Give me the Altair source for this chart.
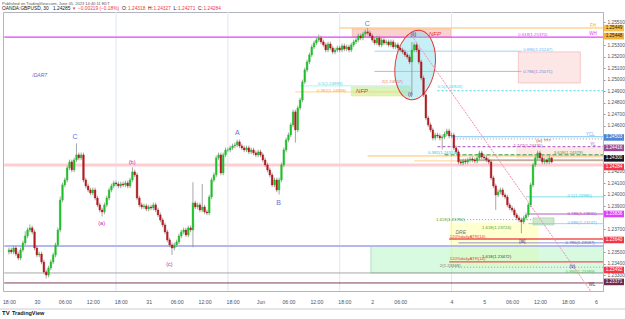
import altair as alt
import pandas as pd

# ---------------- data: 30-min GBPUSD candles (bar index 0 = May 29 18:00 NY) ----------------
first_open = 1.23500
closes = [
 1.23518,1.23501,1.23535,1.23483,1.23448,1.23518,1.23579,1.23640,1.23692,1.23710,
 1.23675,1.23535,1.23475,1.23483,1.23414,1.23327,1.23300,1.23361,1.23414,1.23475,
 1.23562,1.23692,1.23953,1.24084,1.24127,1.24232,1.24284,1.24214,1.24301,1.24345,
 1.24319,1.24345,1.24127,1.24075,1.24040,1.24014,1.24040,1.23970,1.23910,1.23866,
 1.23849,1.23910,1.23970,1.24040,1.24075,1.24101,1.24092,1.24075,1.24092,1.24084,
 1.24101,1.24075,1.24127,1.24197,1.24171,1.23970,1.23910,1.23892,1.23901,1.23875,
 1.23892,1.23883,1.23910,1.23866,1.23823,1.23779,1.23736,1.23675,1.23605,1.23562,
 1.23535,1.23562,1.23588,1.23640,1.23675,1.23692,1.23649,1.23710,1.23692,1.23927,
 1.23892,1.23910,1.23866,1.23892,1.23849,1.23840,1.23979,1.24127,1.24171,1.24319,
 1.24345,1.24188,1.24345,1.24388,1.24388,1.24406,1.24423,1.24432,1.24458,1.24423,
 1.24406,1.24388,1.24406,1.24371,1.24388,1.24362,1.24345,1.24371,1.24345,1.24301,
 1.24258,1.24214,1.24171,1.24084,1.24127,1.24040,1.24127,1.24258,1.24388,1.24475,
 1.24518,1.24606,1.24719,1.24562,1.24753,1.24823,1.24980,1.25084,1.25154,1.25215,
 1.25284,1.25319,1.25345,1.25362,1.25328,1.25302,1.25258,1.25310,1.25275,1.25241,
 1.25258,1.25275,1.25258,1.25293,1.25267,1.25284,1.25258,1.25302,1.25328,1.25345,
 1.25380,1.25362,1.25397,1.25415,1.25406,1.25380,1.25345,1.25319,1.25362,1.25302,
 1.25345,1.25319,1.25328,1.25302,1.25328,1.25284,1.25302,1.25275,1.25258,1.25241,
 1.25215,1.25197,1.25154,1.25258,1.25302,1.25258,1.25154,1.25014,1.24867,1.24666,
 1.24606,1.24562,1.24492,1.24518,1.24510,1.24492,1.24501,1.24527,1.24553,1.24510,
 1.24518,1.24406,1.24371,1.24284,1.24275,1.24292,1.24284,1.24301,1.24310,1.24301,
 1.24292,1.24319,1.24362,1.24327,1.24319,1.24301,1.24284,1.24145,1.24075,1.23996,
 1.24023,1.24040,1.23996,1.23979,1.23910,1.23883,1.23866,1.23823,1.23797,1.23779,
 1.23762,1.23797,1.23823,1.23910,1.24084,1.24258,1.24319,1.24362,1.24319,1.24284,
 1.24301,1.24284,1.24318,1.24284]
# upper / lower wick lengths in pips
wick_up = [
 2,2,2,2,2,2,2,4,2,3, 2,2,2,2,2,2,2,2,2,2, 2,2,3,2,2,2,2,2,2,10, 2,2,2,2,2,2,2,2,2,2,
 2,2,2,2,2,2,2,2,2,2, 2,2,2,4,2,2,2,2,2,2, 2,2,2,2,2,2,2,2,2,2, 2,2,2,2,2,2,2,2,2,18,
 2,2,2,20,2,2,2,2,2,2, 2,2,2,2,2,2,2,2,2,2, 2,2,2,2,2,2,2,2,2,2, 2,2,2,2,2,2,2,2,2,2,
 2,2,2,2,2,2,2,2,2,2, 2,2,2,3,2,2,2,2,2,2, 2,2,2,2,2,2,2,2,2,2, 2,2,2,2,3.4,2,2,2,2,2,
 2,2,2,2,2,2,2,2,2,2, 2,2,2,7,2,2,2,2,2,2, 2,2,2,2,2,2,2,2,2,2, 2,2,2,2,2,2,2,2,2,2,
 2,2,2,2,2,2,2,2,2,2, 2,2,2,2,2,2,2,2,2,2, 2,2,2,2,2,2,2,2,2,2, 2,2,2,0.9]
wick_dn = [
 2,2,2,2,2,2,2,2,2,2, 2,2,2,2,2,2,3,2,2,2, 2,2,2,2,2,2,2,2,2,2, 2,2,2,2,2,2,2,2,2,2,
 4,2,2,2,2,2,2,2,2,2, 2,2,2,2,2,2,2,2,2,2, 2,2,2,2,2,2,2,2,2,2, 6,2,2,2,2,2,2,2,2,15,
 2,2,2,2,2,2,2,2,2,2, 2,2,2,2,2,2,2,2,2,2, 2,2,2,2,2,2,2,2,2,2, 2,2,2,2,2,2,4,2,2,2,
 2,2,2,11,2,2,2,2,2,2, 2,2,2,2,2,2,2,2,2,2, 2,2,2,2,2,2,2,2,2,2, 2,2,2,2,2,2,2,2,2,2,
 2,2,2,2,2,2,2,2,2,2, 2,2,2,28.7,2,2,2,2,2,2, 2,2,2,2,2,2,10,2,2,2, 2,2,2,2,2,2,2,2,2,2,
 2,2,2,2,2,2,2,2,2,13, 2,2,2,2,2,2,2,2,2,2, 10,2,2,2,2,2,2,2,2,2, 2,2,2,1.3]

# x-axis (bar index -> label)
tick_idx = [0, 12, 24, 36, 48, 60, 72, 84, 96, 108, 120, 132, 144, 156, 168, 190, 204, 216, 228, 240, 252]
tick_lbl = ["18:00", "30", "06:00", "12:00", "18:00", "31", "06:00", "12:00", "18:00", "Jun", "06:00",
            "12:00", "18:00", "2", "06:00", "4", "5", "06:00", "12:00", "18:00", "6"]
# price-scale labels that are not hidden behind a price tag
price_ticks = [1.233, 1.234, 1.235, 1.237, 1.239, 1.240, 1.241, 1.242,
               1.246, 1.247, 1.248, 1.249, 1.250, 1.251, 1.252, 1.253, 1.255]
session_breaks = [46, 94, 142, 190]

# horizontal levels: x1, x2 (bar idx), price, colour, dash, width
levels = [
 (-2, 256, 1.25370, "#e040fb", [1, 0], 1.2),
 (142, 256, 1.25449, "#ffb74d", [1, 0], 1),
 (157, 220, 1.25247, "#90caf9", [1, 0], 1),
 (157, 220, 1.25071, "#9fa8da", [1, 0], 1),
 (125, 172, 1.24945, "#b2ebf2", [1, 0], 1),
 (123, 172, 1.24893, "#ffcc80", [1, 0], 1),
 (184, 256, 1.24903, "#4dd0e1", [2, 2], 1),
 (190, 256, 1.24503, "#64b5f6", [1, 0], 1),
 (191, 256, 1.24484, "#9e9e9e", [1, 2], 1),
 (184, 256, 1.24416, "#ab47bc", [3, 2], 1),
 (187, 256, 1.24345, "#43a047", [4, 2], 1.2),
 (154, 256, 1.24336, "#ffb74d", [1, 0], 1),
 (174, 256, 1.24293, "#ffcc80", [1, 0], 1),
 (-2, 256, 1.24258, "#ffcdd2", [1, 0], 3),
 (193, 256, 1.24300, "#757575", [1, 0], 1),
 (222, 256, 1.23980, "#80deea", [1, 0], 1),
 (223, 256, 1.23831, "#ce93d8", [1, 0], 1.5),
 (189, 225, 1.23782, "#66bb6a", [1, 2], 1),
 (223, 256, 1.23747, "#90caf9", [1, 0], 1),
 (189, 256, 1.23614, "#ef5350", [1, 0], 1.5),
 (193, 256, 1.23580, "#7986cb", [1, 0], 1),
 (-2, 256, 1.23553, "#b3b9f0", [1, 0], 2),
 (189, 256, 1.23414, "#ef5350", [1, 0], 1.2),
 (189, 256, 1.23368, "#9e9e9e", [1, 2], 1),
 (-2, 256, 1.23318, "#9e9e9e", [1, 0], 1),
 (-2, 256, 1.23231, "#6d2b47", [1, 0], 1),
]

# zones: x1, x2, top price, bottom price, fill, opacity, stroke
zones = [
 (147.4, 189.6, 1.25441, 1.25371, "#f8c7c0", 0.8, "#f4a79d"),
 (147.0, 172.3, 1.24936, 1.24858, "#d6f5b0", 0.9, "#eee68c"),
 (218.7, 245.3, 1.25241, 1.24971, "#fde4e4", 0.9, "#f4b6b6"),
 (218.0, 256.0, 1.24406, 1.24319, "#fde0dc", 0.7, "#fde0dc"),
 (189.2, 227.2, 1.23753, 1.23370, "#ffff99", 0.45, "#ffff99"),
 (155.4, 256.0, 1.23553, 1.23318, "#b9f6ca", 0.55, "#66bb6a"),
 (225.0, 234.0, 1.23797, 1.23736, "#c8e6c9", 0.9, "#a5d6a7"),
]

# wave / event labels (centered): idx, price, text, colour, size, italic
wave_labels = [
 (13.2, 1.25041, "/DAR7", "#5c6bc0", 5, True),
 (28.4, 1.24501, "C", "#6a6fd8", 7, False),
 (39.8, 1.23753, "(a)", "#c026a8", 5.5, False),
 (52.9, 1.24284, "(b)", "#c026a8", 5.5, False),
 (68.9, 1.23396, "(c)", "#c026a8", 5.5, False),
 (98.1, 1.24536, "A", "#6a6fd8", 7, False),
 (115.8, 1.23927, "B", "#6a6fd8", 7, False),
 (153.8, 1.25484, "C", "#6a6fd8", 7, False),
 (173.6, 1.25397, "(ii)", "#4a148c", 5, False),
 (172.3, 1.24875, "(i)", "#4a148c", 5, False),
 (182.9, 1.25397, "NFP", "#e53935", 6, True),
 (151.6, 1.24901, "NFP", "#e53935", 6, True),
 (220.4, 1.23596, "[iii]", "#4a148c", 5, False),
 (241.9, 1.23379, "(v)", "#4a148c", 5, False),
 (250.8, 1.25467, "FH", "#ffa726", 4.5, False),
 (250.8, 1.25397, "WH", "#e040fb", 4.5, False),
 (249.5, 1.24518, "YCL", "#64b5f6", 4.5, False),
 (250.8, 1.24432, "YL", "#ab47bc", 4.5, False),
 (250.4, 1.23214, "WL", "#6d2b47", 4.5, False),
]

# fib / level labels (left aligned): idx, price, text, colour, italic
fib_labels = [
 (218.7, 1.25389, "0.618(1.25370)", "#e040fb", False),
 (220.8, 1.25258, "0.886(1.25247)", "#64b5f6", False),
 (220.8, 1.25067, "0.786(1.25071)", "#7986cb", False),
 (132.7, 1.24962, "0.5(1.24993)", "#4dd0e1", False),
 (132.2, 1.24901, "0.382(1.24898)", "#ffa726", False),
 (160.1, 1.24980, "2(1.24957)", "#e57373", False),
 (184.1, 1.24936, "0.5(1.24903)", "#4dd0e1", False),
 (216.6, 1.24423, "1.272(1.24435)", "#ab47bc", False),
 (226.4, 1.24466, "(iv) ???", "#c62828", False),
 (179.9, 1.24362, "0.382(1.24374)", "#26c6da", False),
 (233.9, 1.24362, "3.618(1.24379)", "#43a047", False),
 (239.8, 1.23988, "0.5(1.23980)", "#4dd0e1", False),
 (239.8, 1.23831, "0.786(1.23831)", "#ab47bc", False),
 (239.8, 1.23753, "0.886(1.23747)", "#64b5f6", False),
 (183.3, 1.23779, "1.618(1.23782)", "#43a047", False),
 (191.7, 1.23675, "DRE", "#757575", True),
 (203.1, 1.23710, "1.618(1.23724)", "#43a047", False),
 (189.2, 1.23631, "120%dailyATR(14)", "#e53935", False),
 (203.1, 1.23457, "1.618(1.23472)", "#424242", False),
 (189.2, 1.23440, "120%dailyATR(14)", "#e53935", False),
 (185.0, 1.23379, "2(1.23368)", "#757575", False),
 (239.0, 1.23579, "0.786(1.23587)", "#5c6bc0", False),
 (239.0, 1.23327, "0.886(1.23389)", "#66bb6a", False),
]

# price tags on the right scale: price where drawn, text, background, text colour
tags = [
 (1.25448, "1.25449", "#f7c14b", "#222222"),
 (1.25378, "1.25448", "#f2b134", "#222222"),
 (1.24497, "1.24503", "#4f86d1", "#ffffff"),
 (1.24406, "1.24416", "#9b4c8f", "#ffffff"),
 (1.24315, "1.24300", "#131722", "#ffffff"),
 (1.24240, "1.24284", "#f23645", "#ffffff"),
 (1.23831, "1.23836", "#e040fb", "#ffffff"),
 (1.23605, "1.23640", "#f23645", "#ffffff"),
 (1.23344, "1.23492", "#f23645", "#ffffff"),
 (1.23240, "1.23371", "#6d2b47", "#ffffff"),
]

# diagonal trend line and ellipse (bar idx, price)
diag = pd.DataFrame({"i1": [173.0], "p1": [1.25380], "i2": [250.0], "p2": [1.23153]})
ell = pd.DataFrame({"idx": [174.4], "price": [1.25127]})

# ---------------- build ----------------
rows = []
prev = first_open
for i, c in enumerate(closes):
    o = prev
    rows.append({"idx": i, "open": o, "close": c,
                 "high": max(o, c) + wick_up[i] * 0.0001,
                 "low": min(o, c) - wick_dn[i] * 0.0001,
                 "col": "#1fbf2a" if c >= o else "#b3191f"})
    prev = c
cdf = pd.DataFrame(rows)

XD = [-0.4, 252.9]
YD = [1.23161, 1.25588]
xs = alt.Scale(domain=XD, nice=False, zero=False)
ys = alt.Scale(domain=YD, nice=False, zero=False)
FONT = "Liberation Sans"

lbl_expr = ("[" + ",".join("'%s'" % t for t in tick_lbl) + "][indexof([" +
            ",".join(str(v) for v in tick_idx) + "], datum.value)]")
XAX = alt.Axis(values=tick_idx, labelExpr=lbl_expr, labelFontSize=5.2, labelColor="#50535e",
               labelFont=FONT, tickSize=0, labelPadding=8, domain=False, grid=False,
               labelFlush=False, labelOverlap=False, title=None)
YAX = alt.Axis(orient="right", values=price_ticks, format=".5f", labelFontSize=4.8,
               labelColor="#50535e", labelFont=FONT, tickSize=2, tickColor="#9598a1",
               domainColor="#b2b5be", labelPadding=2, grid=False, title=None,
               labelOverlap=False)


def X(field):
    return alt.X(field, type="quantitative", scale=xs, axis=XAX, title=None)


def Y(field):
    return alt.Y(field, type="quantitative", scale=ys, axis=YAX, title=None)


sess = alt.Chart(pd.DataFrame({"idx": session_breaks})).mark_rule(color="#dde7f5", strokeWidth=1).encode(
    x=X("idx"))

zdf = pd.DataFrame(zones, columns=["x1", "x2", "p1", "p2", "fill", "op", "stroke"])
zone_layer = alt.Chart(zdf).mark_rect(strokeWidth=0.8, clip=True).encode(
    x=X("x1"), x2="x2:Q", y=Y("p1"), y2="p2:Q",
    fill=alt.Fill("fill:N", scale=None), stroke=alt.Stroke("stroke:N", scale=None),
    opacity=alt.Opacity("op:Q", scale=None))

ldf = pd.DataFrame(levels, columns=["x1", "x2", "p", "color", "dash", "w"])
level_layer = alt.Chart(ldf).mark_rule(clip=True).encode(
    x=X("x1"), x2="x2:Q", y=Y("p"),
    color=alt.Color("color:N", scale=None),
    strokeDash=alt.StrokeDash("dash", scale=None),
    strokeWidth=alt.StrokeWidth("w:Q", scale=None))

ellipse_path = "M -0.57 0 A 0.57 1 0 1 0 0.57 0 A 0.57 1 0 1 0 -0.57 0 Z"
ell_layer = alt.Chart(ell).mark_point(shape=ellipse_path, size=4900, filled=True, fill="#80deea",
                                      fillOpacity=0.45, stroke="#e53935", strokeWidth=1,
                                      strokeOpacity=1, angle=8).encode(x=X("idx"), y=Y("price"))

diag_layer = alt.Chart(diag).mark_rule(color="#f48fb1", strokeWidth=1, strokeDash=[2, 1], clip=True).encode(
    x=X("i1"), x2="i2:Q", y=Y("p1"), y2="p2:Q")

wicks = alt.Chart(cdf).mark_rule(color="#8f8f8f", strokeWidth=0.8).encode(
    x=X("idx"), y=Y("low"), y2="high:Q")
bodies = alt.Chart(cdf).mark_bar(size=1.7, strokeWidth=0.4).encode(
    x=X("idx"), y=Y("open"), y2="close:Q",
    color=alt.Color("col:N", scale=None), stroke=alt.Stroke("col:N", scale=None))

wdf = pd.DataFrame(wave_labels, columns=["idx", "price", "text", "color", "fs", "it"])
wave_n = alt.Chart(wdf[~wdf.it]).mark_text(font=FONT, baseline="middle", align="center").encode(
    x=X("idx"), y=Y("price"), text="text:N",
    color=alt.Color("color:N", scale=None), size=alt.Size("fs:Q", scale=None))
wave_i = alt.Chart(wdf[wdf.it]).mark_text(font=FONT, baseline="middle", align="center",
                                          fontStyle="italic").encode(
    x=X("idx"), y=Y("price"), text="text:N",
    color=alt.Color("color:N", scale=None), size=alt.Size("fs:Q", scale=None))

fdf = pd.DataFrame(fib_labels, columns=["idx", "price", "text", "color", "it"])
fib_n = alt.Chart(fdf[~fdf.it]).mark_text(font=FONT, baseline="middle", align="left", fontSize=4.3).encode(
    x=X("idx"), y=Y("price"), text="text:N", color=alt.Color("color:N", scale=None))
fib_i = alt.Chart(fdf[fdf.it]).mark_text(font=FONT, baseline="middle", align="left", fontSize=5,
                                         fontStyle="italic").encode(
    x=X("idx"), y=Y("price"), text="text:N", color=alt.Color("color:N", scale=None))

tdf = pd.DataFrame(tags, columns=["price", "text", "bg", "fg"])
box_path = "M -1 -0.33 L 1 -0.33 L 1 0.33 L -1 0.33 Z"
tag_box = alt.Chart(tdf).mark_point(shape=box_path, size=400, filled=True, opacity=1).encode(
    x=alt.value(611), y=Y("price"), color=alt.Color("bg:N", scale=None))
tag_txt = alt.Chart(tdf).mark_text(font=FONT, fontSize=4.6, baseline="middle", align="center").encode(
    x=alt.value(611), y=Y("price"), text="text:N", color=alt.Color("fg:N", scale=None))


def label(txt, x, y, color="#333333", size=5.0, weight="normal", align="left"):
    return alt.Chart(pd.DataFrame({"t": [txt]})).mark_text(
        font=FONT, fontSize=size, fontWeight=weight, align=align, baseline="middle", color=color
    ).encode(x=alt.value(x), y=alt.value(y), text="t:N")


HY = -2.8
header = [
    label("Published on TradingView.com, June 05, 2023 14:40:11 EDT", -1, -8.5, "#555555", 4.0),
    label("OANDA:GBPUSD, 30", -1, HY, "#131722", 4.8),
    label("1.24285", 50, HY, "#131722", 4.8),
    label("\u25bc", 69, HY, "#f23645", 4.2),
    label("\u22120.00219 (\u22120.18%)", 75, HY, "#f23645", 4.8),
    label("O:", 119, HY, "#131722", 4.8), label("1.24318", 125, HY, "#f23645", 4.8),
    label("H:", 145, HY, "#131722", 4.8), label("1.24327", 150.5, HY, "#f23645", 4.8),
    label("L:", 170.5, HY, "#131722", 4.8), label("1.24271", 175, HY, "#f23645", 4.8),
    label("C:", 195, HY, "#131722", 4.8), label("1.24284", 200.5, HY, "#f23645", 4.8),
]
footer = [
    label("TV", -1, 301, "#131722", 6, "bold"),
    label("TradingView", 9, 301, "#131722", 5.5, "bold"),
]
pane = alt.Chart(pd.DataFrame({"a": [0]})).mark_rule(color="#c9ccd3", strokeWidth=1).encode(
    x=alt.value(-3), x2=alt.value(622), y=alt.value(297))

chart = alt.layer(
    sess, zone_layer, level_layer, ell_layer, diag_layer, wicks, bodies,
    wave_n, wave_i, fib_n, fib_i, tag_box, tag_txt, pane, *header, *footer
).properties(
    width=600, height=279,
    padding={"left": 3, "top": 12, "right": 22, "bottom": 28},
    autosize=alt.AutoSizeParams(type="none"),
    background="white",
).configure_view(stroke="#b2b5be", strokeWidth=1)

chart.save("out.html", embed_options={"renderer": "svg", "actions": False})
